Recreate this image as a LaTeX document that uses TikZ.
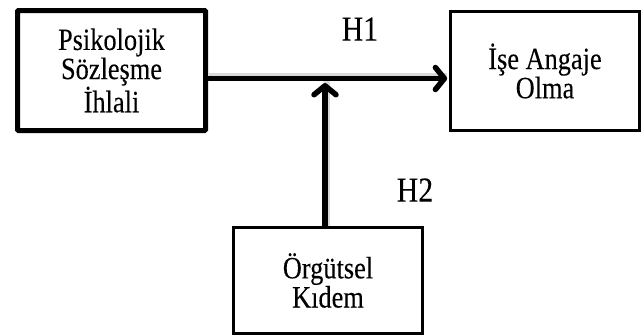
\documentclass[tikz,border=0pt]{standalone}
\usepackage{fontspec}
\setmainfont{Liberation Serif}[FakeStretch=0.85,FakeBold=0.15]
\usetikzlibrary{arrows.meta}
\tikzset{
  boxtext/.style={font=\fontsize{31}{28}\selectfont, align=center, inner sep=0pt},
  thinbox/.style={draw, line width=2.7pt, minimum width=189pt, boxtext},
  thickbox/.style={draw, line width=5pt, rounded corners=1pt, minimum width=188pt, boxtext},
  hlabel/.style={font=\fontsize{35}{35}\selectfont, inner sep=0pt},
  link/.style={line width=5.5pt, -{Straight Barb[length=9pt,width=22pt,line cap=round,line join=round]}},
  shade/.style={line width=6pt, draw=gray!30, line cap=butt}
}
\begin{document}
\begin{tikzpicture}[x=1pt,y=-1pt]
\useasboundingbox (0,0) rectangle (643,335);
\node[thickbox, minimum height=120pt] (A) at (111.5,70.5) {Psikolojik\\Sözleşme\\İhlali};
\node[thinbox, minimum height=119pt] (B) at (545,71) {İşe Angaje\\Olma};
\node[thinbox, minimum height=106.5pt] (C) at (328,280.5) {Örgütsel\\Kıdem};
\coordinate (j) at (325,78.5);
\coordinate (jt) at (325,83);
% soft shadows
\draw[shade] ([xshift=1pt,yshift=3pt]A.east |- j) -- ([xshift=-2pt,yshift=3pt]B.west |- j);
\draw[shade] ([xshift=2pt]C.north -| j) -- ([xshift=2pt,yshift=4pt]jt);
% connectors
\draw[link] (A.east |- j) -- ([xshift=-2pt]B.west |- j);
\draw[link] (C.north -| j) -- (jt);
\node[hlabel] (h1) at (360,29) {H1};
\node[hlabel] (h2) at (415,190) {H2};
\end{tikzpicture}
\end{document}
